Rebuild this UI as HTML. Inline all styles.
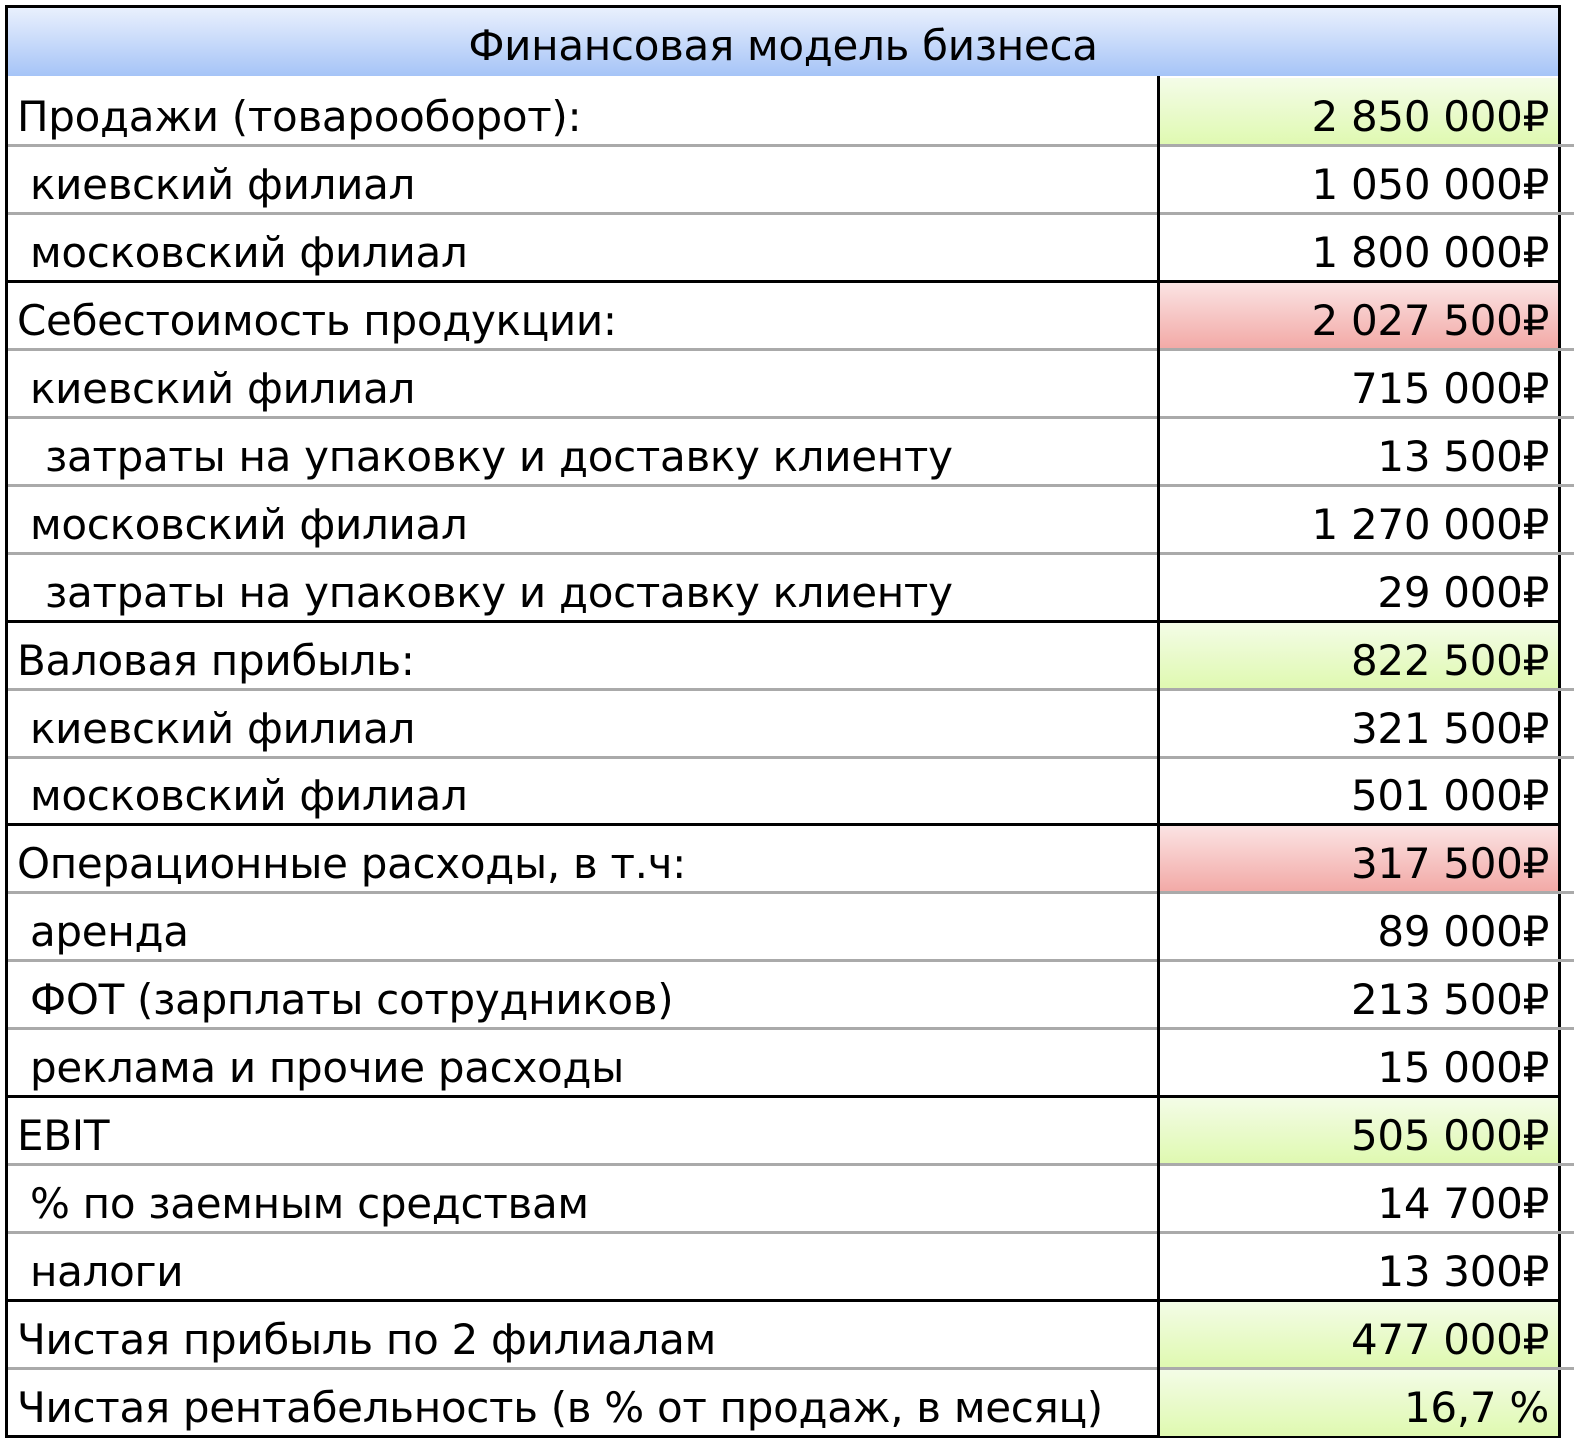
<!DOCTYPE html>
<html><head><meta charset="utf-8"><style>
html,body{margin:0;padding:0;background:#fff;}
body{width:1574px;height:1446px;position:relative;overflow:hidden;font-family:"DejaVu Sans","Liberation Sans",sans-serif;color:#000;}
.frame{position:absolute;left:5px;top:5px;width:1556px;height:1433px;box-sizing:border-box;border:3px solid #000;}
.title{position:absolute;left:8px;top:8px;width:1550px;height:68px;background:linear-gradient(#e9f0fd,#a6c4f7);font-size:42px;letter-spacing:-0.3px;line-height:76px;text-align:center;}
.row{position:absolute;left:8px;width:1550px;}
.lbl{position:absolute;left:0;top:0;bottom:0;width:1149px;font-size:42px;letter-spacing:-0.3px;display:flex;align-items:center;white-space:nowrap;padding-top:10px;box-sizing:border-box;}
.val{position:absolute;left:1152px;top:0;bottom:0;width:398px;font-size:42px;letter-spacing:-0.3px;display:flex;align-items:center;justify-content:flex-end;padding-right:9px;padding-top:10px;box-sizing:border-box;}
.g{background:linear-gradient(#f4fce8,#dff9b0);}
.r{background:linear-gradient(#fbe4e4,#f2a8a5);}
.sep{position:absolute;height:3px;}
.vline{position:absolute;left:1157px;top:76px;width:3px;height:1362px;background:#000;}
</style></head><body>
<div class="frame"></div>
<div class="title">Финансовая модель бизнеса</div>
<div id="rows"></div>
<div class="vline"></div>
<script>
const labels=["Продажи (товарооборот):","киевский филиал","московский филиал","Себестоимость продукции:","киевский филиал","затраты на упаковку и доставку клиенту","московский филиал","затраты на упаковку и доставку клиенту","Валовая прибыль:","киевский филиал","московский филиал","Операционные расходы, в т.ч:","аренда","ФОТ (зарплаты сотрудников)","реклама и прочие расходы","EBIT","% по заемным средствам","налоги","Чистая прибыль по 2 филиалам","Чистая рентабельность (в % от продаж, в месяц)"];
const values=["2 850 000₽","1 050 000₽","1 800 000₽","2 027 500₽","715 000₽","13 500₽","1 270 000₽","29 000₽","822 500₽","321 500₽","501 000₽","317 500₽","89 000₽","213 500₽","15 000₽","505 000₽","14 700₽","13 300₽","477 000₽","16,7 %"];
const indent=[0,1,1,0,1,2,1,2,0,1,1,0,1,1,1,0,1,1,0,0];
const fills=["g","","","r","","","","","g","","","r","","","","g","","","g","g"];
const blackBefore=[3,8,11,15,18];
const root=document.getElementById('rows');
const top0=78,rh=67.9;
for(let i=0;i<labels.length;i++){
  const y=top0+i*rh;
  const row=document.createElement('div');
  row.className='row';
  row.style.top=y+'px';row.style.height=rh+'px';
  
  
  const l=document.createElement('div');
  l.className='lbl';
  l.style.paddingLeft=[9,22,37][indent[i]]+'px';
  l.textContent=labels[i];
  
  
  const v=document.createElement('div');
  v.className='val '+fills[i];
  v.textContent=values[i];
  
  
  row.appendChild(l);row.appendChild(v);root.appendChild(row);
  if(i>0){
    const s=document.createElement('div');
    s.className='sep';
    const black=blackBefore.includes(i);
    s.style.top=(y-1.5)+'px';
    s.style.left='8px';
    s.style.width=black?'1550px':'1566px';
    s.style.background=black?'#000':'#aaa';
    
    
    root.appendChild(s);
  }
}
</script>
</body></html>
